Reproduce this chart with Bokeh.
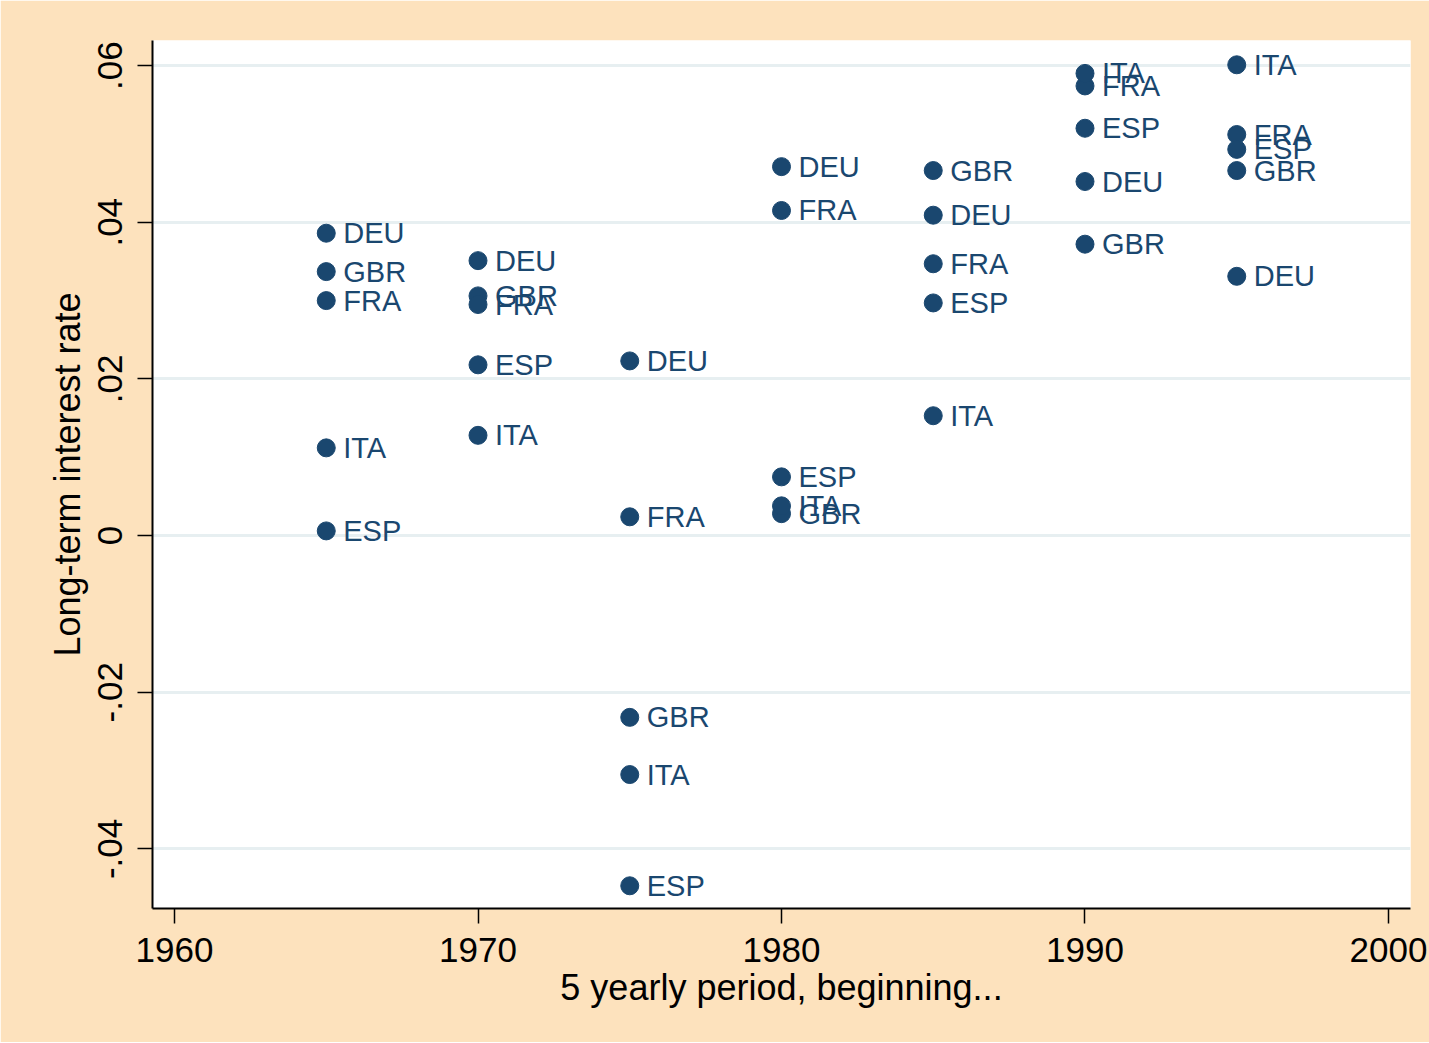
from bokeh.plotting import figure
from bokeh.models import Range1d, FixedTicker, ColumnDataSource
from bokeh.embed import file_html
from bokeh.resources import INLINE
from bokeh.core.properties import value

periods = [1965, 1970, 1975, 1980, 1985, 1990, 1995]
countries = ["DEU", "GBR", "FRA", "ITA", "ESP"]
deu = [0.0386, 0.0351, 0.0223, 0.0471, 0.0409, 0.0452, 0.0331]
gbr = [0.0337, 0.0306, -0.0232, 0.0028, 0.0466, 0.0372, 0.0466]
fra = [0.0300, 0.0295, 0.0024, 0.0415, 0.0347, 0.0574, 0.0512]
ita = [0.0112, 0.0128, -0.0305, 0.0038, 0.0153, 0.0590, 0.0601]
esp = [0.0006, 0.0218, -0.0447, 0.0075, 0.0297, 0.0520, 0.0493]
series = {"DEU": deu, "GBR": gbr, "FRA": fra, "ITA": ita, "ESP": esp}

x_ticks = [1960, 1970, 1980, 1990, 2000]
y_ticks = [-0.04, -0.02, 0, 0.02, 0.04, 0.06]
y_tick_labels = ["-.04", "-.02", "0", ".02", ".04", ".06"]

xs, ys, labs = [], [], []
for c in countries:
    for px, v in zip(periods, series[c]):
        xs.append(px)
        ys.append(v)
        labs.append(c)
src = ColumnDataSource(dict(x=xs, y=ys, lab=labs))

NAVY = "#1a476f"
FONT = "Liberation Sans"

p = figure(width=1429, height=1042, output_backend="svg", toolbar_location=None,
           x_range=Range1d(1959.275, 2000.725), y_range=Range1d(-0.0476, 0.0632),
           min_border_left=152, min_border_right=19, min_border_top=40, min_border_bottom=134,
           background_fill_color="white", border_fill_color="#FDE2BD")
p.outline_line_color = None

p.xgrid.grid_line_color = None
p.ygrid.ticker = FixedTicker(ticks=y_ticks)
p.ygrid.grid_line_color = "#E7EFF1"
p.ygrid.grid_line_width = 3

p.scatter("x", "y", source=src, size=18, color=NAVY)
p.text("x", "y", text="lab", source=src, x_offset=17, text_baseline="middle",
       text_align="left", text_color=NAVY, text_font=value(FONT), text_font_size="29px")

for ax in (p.xaxis[0], p.yaxis[0]):
    ax.axis_line_color = "black"
    ax.axis_line_width = 2
    ax.major_tick_line_color = "black"
    ax.major_tick_line_width = 1.5
    ax.major_tick_out = 15
    ax.major_tick_in = 0
    ax.minor_tick_line_color = None
    ax.major_label_text_font = FONT
    ax.major_label_text_font_size = "35px"
    ax.major_label_text_color = "black"
    ax.axis_label_text_font = FONT
    ax.axis_label_text_font_size = "36px"
    ax.axis_label_text_font_style = "normal"
    ax.axis_label_text_color = "black"

p.xaxis.ticker = FixedTicker(ticks=x_ticks)
p.xaxis.axis_label = "5 yearly period, beginning..."
p.xaxis.major_label_standoff = 14
p.xaxis.axis_label_standoff = 2

p.yaxis.ticker = FixedTicker(ticks=y_ticks)
p.yaxis.major_label_overrides = {t: l for t, l in zip(y_ticks, y_tick_labels)}
p.yaxis.major_label_orientation = "vertical"
p.yaxis.axis_label = "Long-term interest rate"
p.yaxis.major_label_standoff = 15
p.yaxis.axis_label_standoff = 8

open("out.html", "w").write(file_html(p, INLINE))
